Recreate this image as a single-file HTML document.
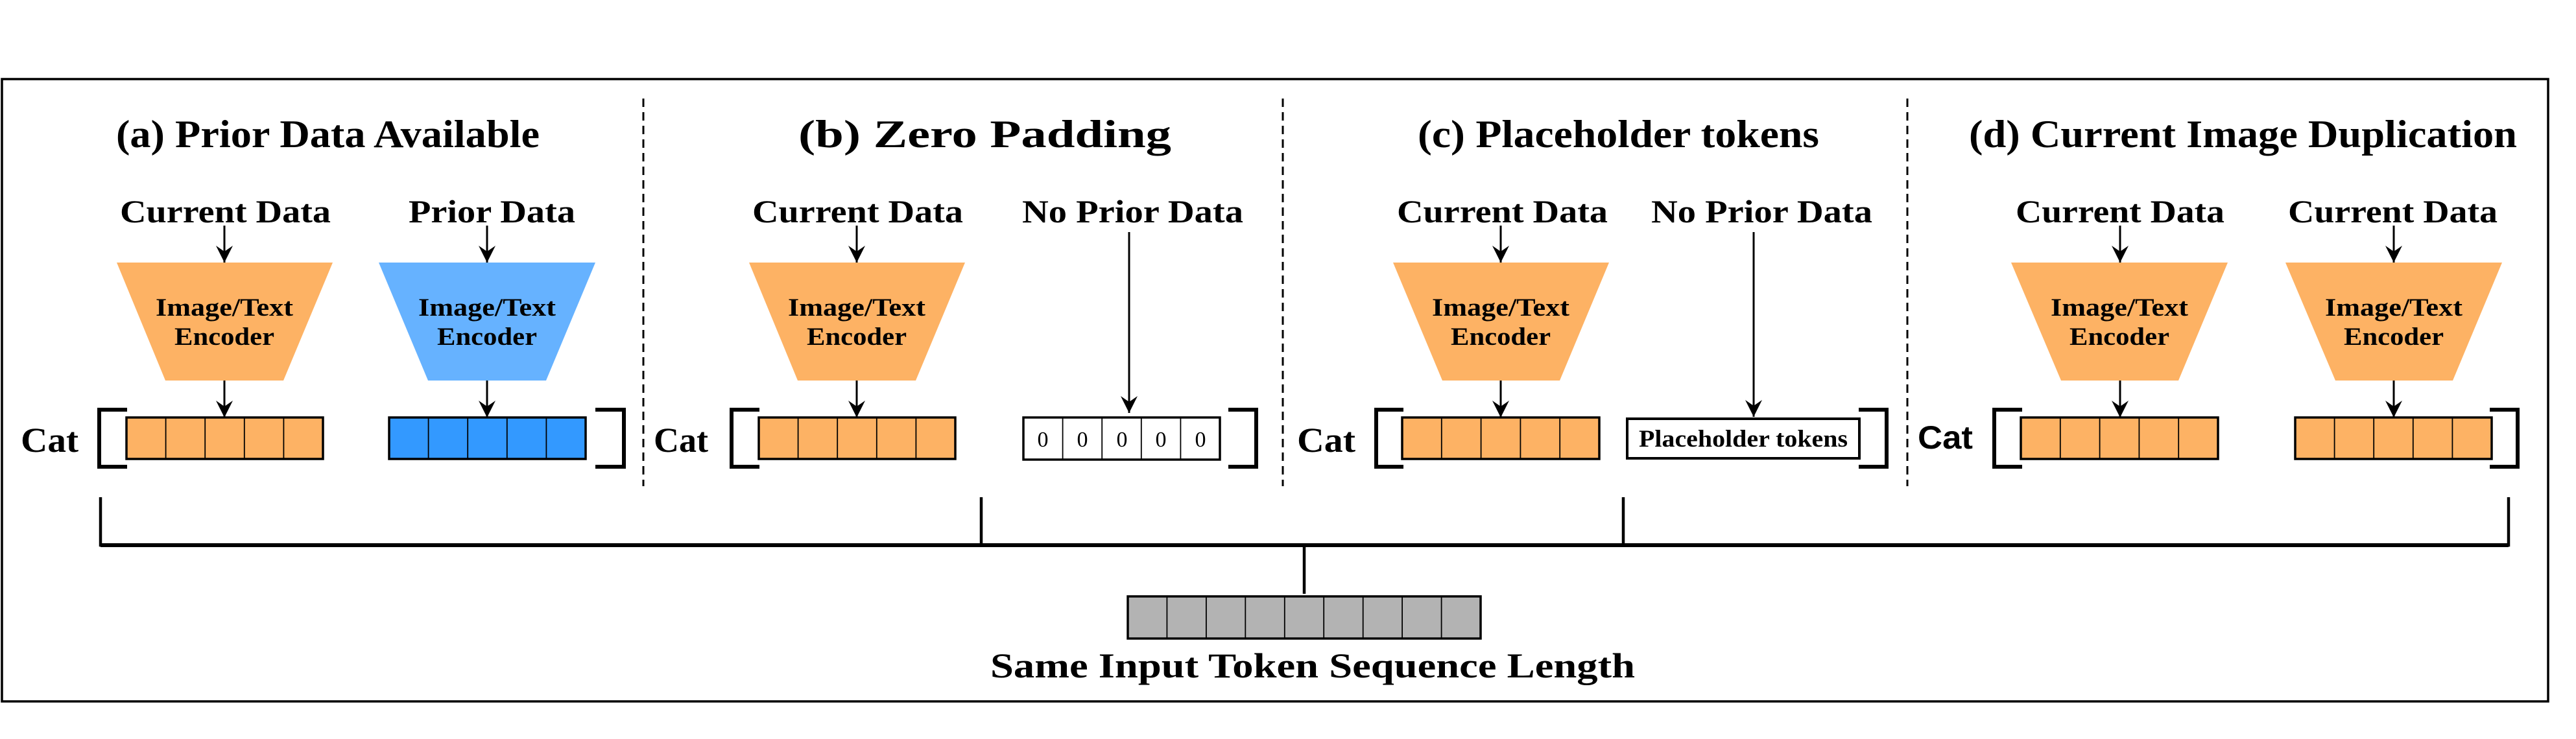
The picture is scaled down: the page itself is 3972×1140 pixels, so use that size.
<!DOCTYPE html>
<html><head><meta charset="utf-8"><style>html,body{margin:0;padding:0;background:#fff}svg{display:block}</style></head><body>
<svg xmlns="http://www.w3.org/2000/svg" width="3972" height="1140" viewBox="0 0 3972 1140">
<defs>
<marker id="ah" markerWidth="26" markerHeight="28" refX="13" refY="26" orient="0" markerUnits="userSpaceOnUse">
<path d="M13 26 L0 0 L13 9 L26 0 Z" fill="#000"/>
</marker>
</defs>
<rect x="0" y="0" width="3972" height="1140" fill="#fff"/>
<rect x="3" y="122" width="3926" height="960" fill="none" stroke="#000" stroke-width="3.5"/>
<g stroke="#000" stroke-width="3" stroke-dasharray="13 8">
<line x1="992" y1="152" x2="992" y2="750"/>
<line x1="1978" y1="152" x2="1978" y2="750"/>
<line x1="2941" y1="152" x2="2941" y2="750"/>
</g>
<g font-family="'Liberation Serif',serif" font-weight="bold" fill="#000">
<text x="179" y="227" font-size="60" textLength="653" lengthAdjust="spacingAndGlyphs">(a) Prior Data Available</text>
<text x="1231" y="227" font-size="60" textLength="575" lengthAdjust="spacingAndGlyphs">(b) Zero Padding</text>
<text x="2186" y="227" font-size="60" textLength="619" lengthAdjust="spacingAndGlyphs">(c) Placeholder tokens</text>
<text x="3036" y="227" font-size="60" textLength="845" lengthAdjust="spacingAndGlyphs">(d) Current Image Duplication</text>
<g font-size="50">
<text x="185" y="343" textLength="325" lengthAdjust="spacingAndGlyphs">Current Data</text>
<text x="630" y="343" textLength="257" lengthAdjust="spacingAndGlyphs">Prior Data</text>
<text x="1160" y="343" textLength="325" lengthAdjust="spacingAndGlyphs">Current Data</text>
<text x="1576" y="343" textLength="341" lengthAdjust="spacingAndGlyphs">No Prior Data</text>
<text x="2154" y="343" textLength="325" lengthAdjust="spacingAndGlyphs">Current Data</text>
<text x="2546" y="343" textLength="341" lengthAdjust="spacingAndGlyphs">No Prior Data</text>
<text x="3108" y="343" textLength="322" lengthAdjust="spacingAndGlyphs">Current Data</text>
<text x="3528" y="343" textLength="323" lengthAdjust="spacingAndGlyphs">Current Data</text>
</g>
<g font-size="54">
<text x="32" y="697" textLength="89" lengthAdjust="spacingAndGlyphs">Cat</text>
<text x="1008" y="697" textLength="84" lengthAdjust="spacingAndGlyphs">Cat</text>
<text x="2000" y="697" textLength="90" lengthAdjust="spacingAndGlyphs">Cat</text>
</g>
<text x="2957" y="692" font-size="50" font-family="'Liberation Sans',sans-serif" textLength="85" lengthAdjust="spacingAndGlyphs">Cat</text>
<text x="1527" y="1045" font-size="54" textLength="994" lengthAdjust="spacingAndGlyphs">Same Input Token Sequence Length</text>
</g>
<polygon points="180,405 513,405 437,587 255,587" fill="#fdb264"/>
<polygon points="584,405 918,405 842,587 660,587" fill="#66b2ff"/>
<polygon points="1155,405 1488,405 1412,587 1230,587" fill="#fdb264"/>
<polygon points="2148,405 2481,405 2405,587 2224,587" fill="#fdb264"/>
<polygon points="3101,405 3435,405 3359,587 3178,587" fill="#fdb264"/>
<polygon points="3524,405 3858,405 3782,587 3601,587" fill="#fdb264"/>
<g font-family="'Liberation Serif',serif" font-weight="bold" font-size="39" fill="#000">
<text x="240" y="487" textLength="212" lengthAdjust="spacingAndGlyphs">Image/Text</text><text x="269" y="532" textLength="154" lengthAdjust="spacingAndGlyphs">Encoder</text>
<text x="645" y="487" textLength="212" lengthAdjust="spacingAndGlyphs">Image/Text</text><text x="674" y="532" textLength="154" lengthAdjust="spacingAndGlyphs">Encoder</text>
<text x="1215" y="487" textLength="212" lengthAdjust="spacingAndGlyphs">Image/Text</text><text x="1244" y="532" textLength="154" lengthAdjust="spacingAndGlyphs">Encoder</text>
<text x="2208" y="487" textLength="212" lengthAdjust="spacingAndGlyphs">Image/Text</text><text x="2237" y="532" textLength="154" lengthAdjust="spacingAndGlyphs">Encoder</text>
<text x="3162" y="487" textLength="212" lengthAdjust="spacingAndGlyphs">Image/Text</text><text x="3191" y="532" textLength="154" lengthAdjust="spacingAndGlyphs">Encoder</text>
<text x="3585" y="487" textLength="212" lengthAdjust="spacingAndGlyphs">Image/Text</text><text x="3614" y="532" textLength="154" lengthAdjust="spacingAndGlyphs">Encoder</text>
</g>
<g stroke="#000" stroke-width="3" marker-end="url(#ah)">
<line x1="346" y1="348" x2="346" y2="405"/><line x1="346" y1="587" x2="346" y2="644"/>
<line x1="751" y1="348" x2="751" y2="405"/><line x1="751" y1="587" x2="751" y2="644"/>
<line x1="1321" y1="348" x2="1321" y2="405"/><line x1="1321" y1="587" x2="1321" y2="644"/>
<line x1="1741" y1="358" x2="1741" y2="637"/>
<line x1="2314" y1="348" x2="2314" y2="405"/><line x1="2314" y1="587" x2="2314" y2="644"/>
<line x1="2704" y1="358" x2="2704" y2="643"/>
<line x1="3269" y1="348" x2="3269" y2="405"/><line x1="3269" y1="587" x2="3269" y2="644"/>
<line x1="3691" y1="348" x2="3691" y2="405"/><line x1="3691" y1="587" x2="3691" y2="644"/>
</g>
<g stroke="#000">
<g fill="#fdb264">
<rect x="195" y="644" width="303" height="64" stroke-width="3.5"/>
<rect x="1170" y="644" width="303" height="64" stroke-width="3.5"/>
<rect x="2162" y="644" width="304" height="64" stroke-width="3.5"/>
<rect x="3116" y="644" width="304" height="64" stroke-width="3.5"/>
<rect x="3539" y="644" width="303" height="64" stroke-width="3.5"/>
</g>
<rect x="600" y="644" width="303" height="64" fill="#3399ff" stroke-width="3.5"/>
<rect x="1578" y="644" width="303" height="65" fill="#fff" stroke-width="3.5"/>
<rect x="2509" y="646" width="358" height="61" fill="#fff" stroke-width="4"/>
<g stroke-width="1.8">
<path d="M255.6 644V708M316.2 644V708M376.8 644V708M437.4 644V708"/>
<path d="M660.6 644V708M721.2 644V708M781.8 644V708M842.4 644V708"/>
<path d="M1230.6 644V708M1291.2 644V708M1351.8 644V708M1412.4 644V708"/>
<path d="M1638.6 644V709M1699.2 644V709M1759.8 644V709M1820.4 644V709"/>
<path d="M2222.8 644V708M2283.6 644V708M2344.4 644V708M2405.2 644V708"/>
<path d="M3176.8 644V708M3237.6 644V708M3298.4 644V708M3359.2 644V708"/>
<path d="M3599.6 644V708M3660.2 644V708M3720.8 644V708M3781.4 644V708"/>
</g>
<rect x="1739" y="920" width="544" height="65" fill="#b3b3b3" stroke-width="3.5"/>
<path stroke-width="1.8" d="M1799.4 920V985M1859.9 920V985M1920.3 920V985M1980.8 920V985M2041.2 920V985M2101.7 920V985M2162.1 920V985M2222.6 920V985"/>
</g>
<g font-family="'Liberation Serif',serif" font-size="34" fill="#000" text-anchor="middle">
<text x="1608" y="689">0</text><text x="1669" y="689">0</text><text x="1730" y="689">0</text><text x="1790" y="689">0</text><text x="1851" y="689">0</text>
</g>
<text x="2527" y="689" font-family="'Liberation Serif',serif" font-weight="bold" font-size="37" textLength="322" lengthAdjust="spacingAndGlyphs">Placeholder tokens</text>
<g fill="none" stroke="#000" stroke-width="6">
<path d="M196 632H153V720H196"/><path d="M918 632H962V720H918"/>
<path d="M1171 632H1128V720H1171"/><path d="M1894 632H1937V720H1894"/>
<path d="M2164 632H2122V720H2164"/><path d="M2866 632H2909V720H2866"/>
<path d="M3118 632H3075V720H3118"/><path d="M3839 632H3882V720H3839"/>
</g>
<g stroke="#000" stroke-width="4.5" fill="none">
<path d="M155 767V841H3868V767"/>
<line x1="1513" y1="767" x2="1513" y2="841"/>
<line x1="2503" y1="767" x2="2503" y2="841"/>
<line x1="2011" y1="841" x2="2011" y2="916"/>
</g>
<line x1="155" y1="841" x2="3868" y2="841" stroke="#000" stroke-width="6"/>
</svg>
</body></html>
